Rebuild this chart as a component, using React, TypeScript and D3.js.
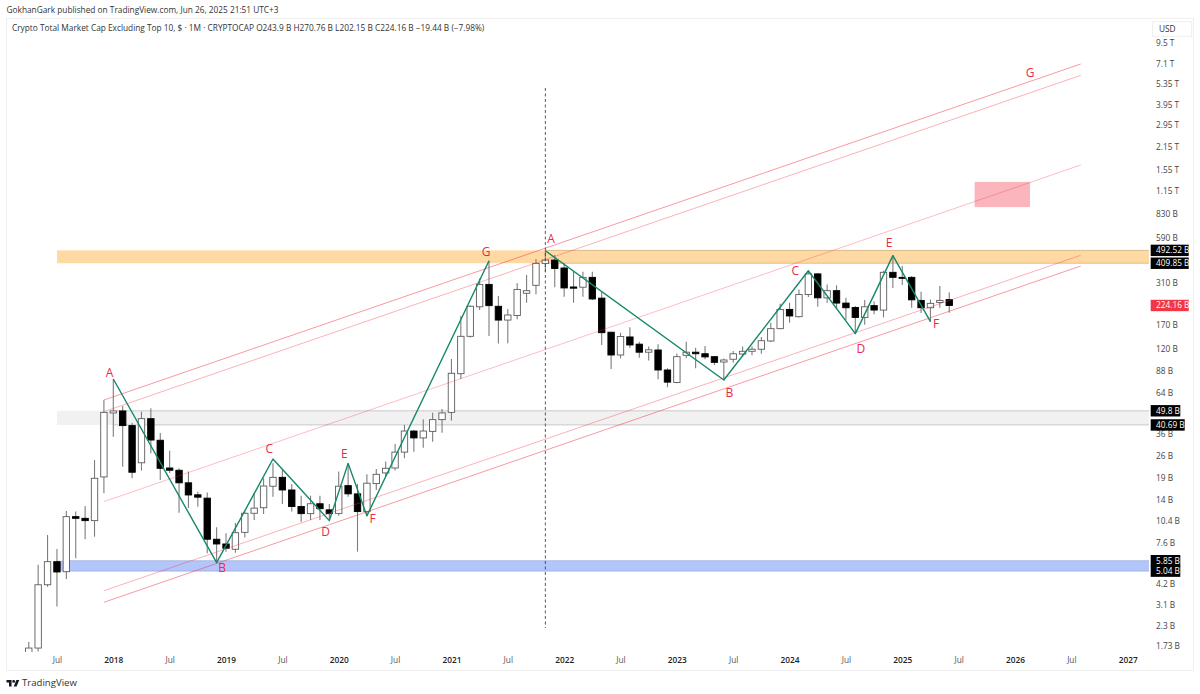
import React, { useRef, useEffect } from "react";
import * as d3 from "d3";

// months are counted from Jan 2018 (index 0), values are in billions USD
const firstMonth = -9; // Apr 2017

const opens = [
  1.55, 1.68, 4.15, 5.77, 5.0, 10.98, 10.72, 10.37, 19.36,
  48.3, 49.7, 40.3, 23.7, 44.5, 32.7, 22, 21.3, 17.8, 15.0, 14.3, 7.95,
  7.43, 6.89, 8.77, 11.52, 12.47, 16.95, 19.25, 16.07, 12.7, 11.46, 13.2, 12.1,
  11.5, 17.1, 15.2, 11.8, 17.6, 20.5, 22, 27.6, 37.3, 33.8, 37.1, 43.9,
  48.7, 84.6, 144.3, 220, 303, 221.6, 182, 194.5, 267, 299, 409, 429,
  383, 292, 291, 335, 249, 153, 110.5, 143, 129, 115, 118.7, 89.2,
  74.6, 110, 115, 112.5, 107.9, 100, 104, 112, 116.5, 120, 135, 161,
  212, 191, 262, 352, 250, 277, 232, 218, 189, 223.7, 210, 360,
  335, 335, 241, 217, 234, 243.9,
];
const highs = [
  1.83, 5.53, 8.44, 6.92, 11.9, 11.8, 12.8, 24.67, 58.1,
  78.4, 53.3, 41.9, 49.2, 51.6, 36.2, 28.1, 21.9, 20.9, 15.68, 15.5, 9.44,
  8.65, 10.03, 11.8, 15.4, 18.99, 23.5, 21.6, 17.5, 14.8, 14.8, 14.8, 13.16,
  20.9, 23.5, 17.5, 20.1, 21.7, 24.1, 31.0, 40.7, 37.8, 44.1, 48.5, 51.1,
  104.4, 193, 225, 330, 425, 256.8, 213, 308, 346, 435, 490, 461,
  411, 363, 363, 363, 273, 154, 152, 164, 133.5, 124.6, 129, 91.4,
  113, 133.5, 122.6, 125.6, 108.9, 105, 117, 124.6, 124.6, 143, 175, 229.5,
  233, 282, 368, 356, 303, 299, 250, 222.6, 242.4, 237, 368, 457,
  394, 341, 273, 244, 296, 270.76,
];
const lows = [
  1.5, 1.6, 4.04, 3.04, 4.5, 6.05, 7.95, 8.24, 15.33,
  34.4, 22.4, 18.99, 21.2, 27.2, 18.54, 20.5, 11.6, 12.4, 12.66, 6.5, 5.66,
  6.66, 6.56, 8.16, 10.47, 11.4, 14.6, 13.16, 11.8, 10.2, 10.47, 10.47, 10.57,
  11.1, 14.6, 6.66, 11.1, 16.07, 19.6, 21.2, 25.3, 27.7, 29.4, 32, 36.4,
  43.3, 78.4, 142, 210, 145, 130, 130.5, 184, 233, 263, 363, 291,
  254, 233, 254, 242.4, 127.5, 90.5, 105.4, 122, 106.4, 102, 78.1, 69.7,
  73.8, 105.4, 91.4, 104, 95.8, 78.1, 99, 107.9, 110, 112.5, 133, 159.5,
  175, 189, 253, 220, 233, 215, 182, 150, 170, 198, 189, 288,
  300, 217, 201, 178, 217, 202.15,
];
const closes = [
  1.68, 4.15, 5.77, 4.98, 10.98, 10.72, 10.37, 18.99, 48.7,
  49.7, 40.3, 20.7, 44.5, 32.8, 21.9, 21.3, 17.8, 14.96, 14.5, 7.95, 7.43,
  6.99, 8.73, 11.52, 12.4, 17.0, 19.25, 16.07, 12.68, 11.46, 13.2, 12.3, 11.46,
  16.95, 15.2, 11.8, 17.7, 20.1, 21.9, 27.6, 37.3, 33.8, 37.3, 43.9, 48.3,
  85.1, 144.3, 221.6, 303, 223.7, 182, 195.7, 282, 277, 409, 429, 380,
  288, 287, 335, 246, 152, 110.5, 144, 127.5, 115, 119, 89.2, 75,
  107.9, 115, 112.5, 107.5, 99.5, 102.9, 112.5, 116.5, 120, 135.5, 161, 212,
  193, 262, 352, 250, 277, 232, 217, 189, 220, 210, 360, 335,
  332, 243, 217, 231, 241, 224.16,
];

// the two green ABC.. swings
const swingOneMonths = [0, 11, 17, 23, 25, 27, 40];
const swingOneValues = [78.4, 5.69, 25, 10.37, 23.5, 11.1, 425];
const swingTwoMonths = [46, 65, 74, 79, 83, 87];
const swingTwoValues = [490, 77.3, 368, 150, 457, 178];

// red channel, all five lines run over the same months
const channelMonths = [-1, 103];
const channelStarts = [58.1, 49.2, 13.6, 3.81, 3.23];
const channelEnds = [7061, 6003, 1668, 459, 394];
const channelOpacity = [0.5, 0.38, 0.32, 0.38, 0.5];

const labelTexts = ["A", "B", "C", "D", "E", "F", "G", "A", "B", "C", "D", "E", "F", "G"];
const labelMonths = [-0.4, 11.6, 16.6, 22.6, 24.6, 27.6, 39.7, 46.6, 65.6, 72.6, 79.6, 82.6, 87.6, 97.6];
const labelValues = [86.3, 5.33, 29, 8.81, 27.1, 10.7, 481, 586, 64.8, 367, 121.6, 550, 172, 6230];

// support zones: [top value, bottom value], ray starts where the dotted edge begins
const zoneTops = [492.52, 49.8, 5.85];
const zoneBottoms = [409.85, 40.69, 5.04];
const zoneRayMonths = [46, 0, -5];
const zoneFills = ["#ffd9a3", "#f1f1f1", "#b3c6fb"];
const zoneEdges = ["#b98a45", "#999999", "#8090c8"];

const targetMonths = [91.7, 97.6];
const targetValues = [1310, 914];
const cycleMonth = 46;
const cycleValues = [5012, 2.24];

const priceTicks = [9500, 7100, 5350, 3950, 2950, 2150, 1550, 1150, 830, 590, 310, 170, 120, 88, 64, 36, 26, 19, 14, 10.4, 7.6, 4.2, 3.1, 2.3, 1.73];
const priceTickLabels = ["9.5 T", "7.1 T", "5.35 T", "3.95 T", "2.95 T", "2.15 T", "1.55 T", "1.15 T", "830 B", "590 B", "310 B", "170 B", "120 B", "88 B", "64 B", "36 B", "26 B", "19 B", "14 B", "10.4 B", "7.6 B", "4.2 B", "3.1 B", "2.3 B", "1.73 B"];

const timeTicks = [-6, 0, 6, 12, 18, 24, 30, 36, 42, 48, 54, 60, 66, 72, 78, 84, 90, 96, 102, 108];
const timeTickLabels = ["Jul", "2018", "Jul", "2019", "Jul", "2020", "Jul", "2021", "Jul", "2022", "Jul", "2023", "Jul", "2024", "Jul", "2025", "Jul", "2026", "Jul", "2027"];

const tagValues = [492.52, 409.85, 224.16, 49.8, 40.69, 5.85, 5.04];
const tagTexts = ["492.52 B", "409.85 B", "224.16 B", "49.8 B", "40.69 B", "5.85 B", "5.04 B"];
const tagWidths = [38, 38, 38, 29.6, 34, 29.6, 29.6];

const font = "'Open Sans', sans-serif";
const width = 1200;
const height = 694;

const App = () => {
  const chartRef = useRef<SVGSVGElement | null>(null);

  useEffect(() => {
    if (!chartRef.current) return;

    const svg = d3.select(chartRef.current);
    svg.selectAll("*").remove();

    svg.append("rect").attr("width", width).attr("height", height).attr("fill", "#ffffff");

    const x = d3.scaleLinear().domain([0, 108]).range([113.3, 1127.7]);
    const y = d3.scaleLog().domain([1.73, 9500]).range([646, 43.2]);

    // pane frame
    svg
      .append("rect")
      .attr("x", 6.5)
      .attr("y", 18.5)
      .attr("width", 1187)
      .attr("height", 652)
      .attr("fill", "none")
      .attr("stroke", "#f0f0f0");

    // header
    svg
      .append("text")
      .attr("x", 6.5)
      .attr("y", 13)
      .attr("font-family", font)
      .attr("font-size", 8.3)
      .attr("fill", "#333333")
      .text("GokhanGark published on TradingView.com, Jun 26, 2025 21:51 UTC+3");
    svg
      .append("text")
      .attr("x", 12)
      .attr("y", 31)
      .attr("font-family", font)
      .attr("font-size", 8.3)
      .attr("fill", "#333333")
      .text("Crypto Total Market Cap Excluding Top 10, $ · 1M · CRYPTOCAP  O243.9 B  H270.76 B  L202.15 B  C224.16 B  −19.44 B (−7.98%)");

    svg
      .append("clipPath")
      .attr("id", "pane")
      .append("rect")
      .attr("x", 7)
      .attr("y", 19)
      .attr("width", 1186)
      .attr("height", 633);
    const pane = svg.append("g").attr("clip-path", "url(#pane)");

    // zones
    zoneTops.forEach((top, i) => {
      pane
        .append("rect")
        .attr("x", 57)
        .attr("width", 1149 - 57)
        .attr("y", y(top))
        .attr("height", y(zoneBottoms[i]) - y(top))
        .attr("fill", zoneFills[i]);
      [top, zoneBottoms[i]].forEach((v) => {
        pane
          .append("line")
          .attr("x1", x(zoneRayMonths[i]))
          .attr("x2", 1149)
          .attr("y1", y(v))
          .attr("y2", y(v))
          .attr("stroke", zoneEdges[i])
          .attr("stroke-width", 0.8)
          .attr("stroke-dasharray", "1.2,0.8");
      });
    });

    // candles
    const candles = opens.map((o, i) => ({
      month: firstMonth + i,
      o,
      h: highs[i],
      l: lows[i],
      c: closes[i],
    }));
    const candle = pane.selectAll("g.candle").data(candles).enter().append("g").attr("class", "candle");
    candle
      .append("line")
      .attr("x1", (d) => x(d.month))
      .attr("x2", (d) => x(d.month))
      .attr("y1", (d) => y(d.h))
      .attr("y2", (d) => y(d.l))
      .attr("stroke", "#7d7d7d")
      .attr("stroke-width", 1.1);
    candle
      .append("rect")
      .attr("x", (d) => x(d.month) - 3.2)
      .attr("width", 6.4)
      .attr("y", (d) => y(Math.max(d.o, d.c)))
      .attr("height", (d) => Math.max(1, Math.abs(y(d.o) - y(d.c))))
      .attr("fill", (d) => (d.c >= d.o ? "#ffffff" : "#000000"))
      .attr("stroke", (d) => (d.c >= d.o ? "#5c5c5c" : "#000000"))
      .attr("stroke-width", 0.9);

    // channel
    channelStarts.forEach((start, i) => {
      pane
        .append("path")
        .attr(
          "d",
          d3
            .line<number>()
            .x((_, k) => x(channelMonths[k]))
            .y((d) => y(d))([start, channelEnds[i]])
        )
        .attr("fill", "none")
        .attr("stroke", "#f23645")
        .attr("stroke-opacity", channelOpacity[i])
        .attr("stroke-width", 1);
    });

    // target box
    pane
      .append("rect")
      .attr("x", x(targetMonths[0]))
      .attr("width", x(targetMonths[1]) - x(targetMonths[0]))
      .attr("y", y(targetValues[0]))
      .attr("height", y(targetValues[1]) - y(targetValues[0]))
      .attr("fill", "#f23645")
      .attr("fill-opacity", 0.36);

    // vertical marker
    svg
      .append("line")
      .attr("x1", x(cycleMonth))
      .attr("x2", x(cycleMonth))
      .attr("y1", y(cycleValues[0]))
      .attr("y2", y(cycleValues[1]))
      .attr("stroke", "#444444")
      .attr("stroke-width", 0.9)
      .attr("stroke-dasharray", "3,2.5");

    // green swings
    const swingLine = d3
      .line<[number, number]>()
      .x((d) => x(d[0]))
      .y((d) => y(d[1]));
    [
      d3.zip(swingOneMonths, swingOneValues),
      d3.zip(swingTwoMonths, swingTwoValues),
    ].forEach((pts) => {
      pane
        .append("path")
        .attr("d", swingLine(pts as [number, number][]))
        .attr("fill", "none")
        .attr("stroke", "#14876c")
        .attr("stroke-width", 1.4)
        .attr("stroke-linejoin", "round");
    });

    // letters
    labelTexts.forEach((t, i) => {
      svg
        .append("text")
        .attr("x", x(labelMonths[i]))
        .attr("y", y(labelValues[i]))
        .attr("dy", "0.36em")
        .attr("text-anchor", "middle")
        .attr("font-family", font)
        .attr("font-size", 12)
        .attr("fill", "#ea2a4c")
        .text(t);
    });

    // price axis
    svg
      .append("g")
      .attr("transform", "translate(1156,0)")
      .call(
        d3
          .axisRight(y)
          .tickValues(priceTicks)
          .tickSize(0)
          .tickPadding(0)
          .tickFormat((_, i) => priceTickLabels[i])
      )
      .call((g) => g.select(".domain").remove())
      .selectAll("text")
      .style("font-size", "8.3px")
      .style("font-family", font)
      .style("fill", "#444444");

    // time axis
    svg
      .append("g")
      .attr("transform", "translate(0,654)")
      .call(
        d3
          .axisBottom(x)
          .tickValues(timeTicks)
          .tickSize(0)
          .tickPadding(3)
          .tickFormat((_, i) => timeTickLabels[i])
      )
      .call((g) => g.select(".domain").remove())
      .selectAll("text")
      .style("font-size", "8.3px")
      .style("font-family", font)
      .style("font-weight", (_, i) => (i % 2 ? 600 : 400))
      .style("fill", (_, i) => (i % 2 ? "#222222" : "#555555"));

    // axis tags
    tagValues.forEach((v, i) => {
      const fill = v === 224.16 ? "#f23645" : "#000000";
      svg
        .append("rect")
        .attr("x", 1150.7)
        .attr("y", y(v) - 5.7)
        .attr("width", tagWidths[i])
        .attr("height", 11.4)
        .attr("fill", fill);
      svg
        .append("text")
        .attr("x", 1156)
        .attr("y", y(v))
        .attr("dy", "0.35em")
        .attr("font-family", font)
        .attr("font-size", 8.3)
        .attr("fill", "#ffffff")
        .text(tagTexts[i]);
    });

    // currency box
    svg
      .append("rect")
      .attr("x", 1152.7)
      .attr("y", 21.7)
      .attr("width", 39)
      .attr("height", 14.6)
      .attr("fill", "#ffffff")
      .attr("stroke", "#eeeeee");
    svg
      .append("text")
      .attr("x", 1159)
      .attr("y", 32)
      .attr("font-family", font)
      .attr("font-size", 8.3)
      .attr("fill", "#333333")
      .text("USD");

    // logo
    const logo = svg.append("g").attr("transform", "translate(6.5,678.5) scale(0.36)");
    logo.append("path").attr("d", "M14 22H7V11H0V4h14v18zM28 22h-8l7.5-18h8L28 22z").attr("fill", "#131722");
    logo.append("circle").attr("cx", 20).attr("cy", 8).attr("r", 4).attr("fill", "#131722");
    svg
      .append("text")
      .attr("x", 22)
      .attr("y", 686)
      .attr("font-family", font)
      .attr("font-size", 9.6)
      .attr("fill", "#333333")
      .text("TradingView");
  }, []);

  return (
    <svg
      ref={chartRef}
      width={width}
      height={height}
      style={{ position: "absolute", left: 0, top: 0 }}
    />
  );
};

export default App;
